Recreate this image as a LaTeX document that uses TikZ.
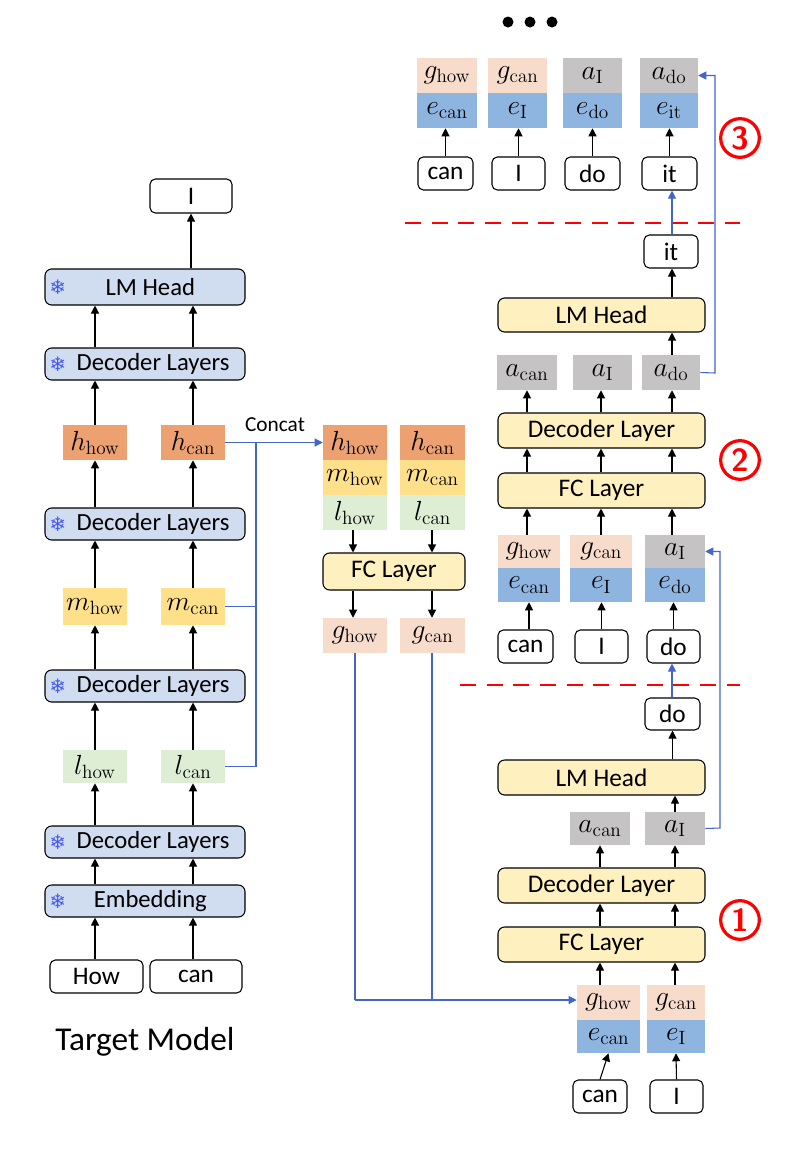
\documentclass[tikz,border=0pt]{standalone}
\usepackage[no-math]{fontspec}
\setmainfont{Carlito}
\newfontfamily\djv{DejaVu Sans}
\usetikzlibrary{arrows.meta}
\definecolor{lay}{HTML}{D0DCEF}
\definecolor{hc}{HTML}{EDA070}
\definecolor{mc}{HTML}{FFE08A}
\definecolor{lc}{HTML}{DDEED5}
\definecolor{gc}{HTML}{F8DCCB}
\definecolor{ec}{HTML}{8EB4E0}
\definecolor{ac}{HTML}{C5C3C4}
\definecolor{yb}{HTML}{FFF0C0}
\definecolor{bl}{HTML}{4466C4}
\newcommand\bx[7]{\node[#6, minimum width={(#4-#2)*0.75pt}, minimum height={(#5-#3)*0.75pt}] (#1) at ({(#2+#4)/2},{(#3+#5)/2}) {#7};}
\begin{document}
\begin{tikzpicture}[x=0.75pt,y=-0.75pt,
 every node/.style={inner sep=0pt,font=\fontsize{19}{22}\selectfont},
 tok/.style={draw,thick,rounded corners=4pt},
 layer/.style={draw,thick,rounded corners=5pt,fill=lay,font=\fontsize{18.5}{22}\selectfont},
 ylay/.style={draw,thick,rounded corners=5pt,fill=yb,font=\fontsize{19}{22}\selectfont},
 cell/.style={fill=#1,font=\fontsize{21}{24}\selectfont},
 arr/.style={-{Triangle[length=6pt,width=6pt]},thick},
 barr/.style={-{Triangle[length=6pt,width=6pt]},thick,bl},
 bln/.style={thick,bl},
 rdash/.style={red,line width=2pt,dash pattern=on 12pt off 8pt},
 num/.style={circle,draw=red,line width=2.4pt,text=red,minimum size=29pt,font=\fontsize{24}{26}\selectfont\sffamily\bfseries}]
\useasboundingbox (0,0) rectangle (788,1150);
% ---------- left: target model
\bx{I0}{150}{179}{232}{213}{tok}{I}
\bx{lmh}{45}{269}{245}{305}{layer}{\hspace*{8pt}LM Head}
\bx{d4}{45}{348}{245}{380}{layer}{\hspace*{12pt}Decoder Layers}
\bx{hhow}{63}{425}{127}{460}{cell=hc}{$h_{\mathrm{how}}$}
\bx{hcan}{161}{425}{225}{460}{cell=hc}{$h_{\mathrm{can}}$}
\bx{d3}{45}{508}{245}{540}{layer}{\hspace*{12pt}Decoder Layers}
\bx{mhow}{63}{588}{127}{625}{cell=mc}{$m_{\mathrm{how}}$}
\bx{mcan}{161}{588}{225}{625}{cell=mc}{$m_{\mathrm{can}}$}
\bx{d2}{45}{670}{245}{702}{layer}{\hspace*{12pt}Decoder Layers}
\bx{lhow}{63}{750}{127}{783}{cell=lc}{$l_{\mathrm{how}}$}
\bx{lcan}{161}{750}{225}{783}{cell=lc}{$l_{\mathrm{can}}$}
\bx{d1}{45}{826}{245}{858}{layer}{\hspace*{12pt}Decoder Layers}
\bx{emb}{45}{885}{245}{917}{layer}{\hspace*{8pt}Embedding}
\bx{how}{50}{960}{143}{993}{tok}{How}
\bx{can0}{150}{960}{242}{993}{tok}{can}
\node[font=\fontsize{25}{28}\selectfont] (tm) at (145,1042) {Target Model};
\foreach \n in {lmh,d4,d3,d2,d1,emb} \node at ([xshift=10pt]\n.west) {\djv\color{ec!50!blue}\fontsize{15}{15}\selectfont ❄};
\foreach \a/\b in {how/emb,emb/d1,d1/lhow,lhow/d2,d2/mhow,mhow/d3,d3/hhow,hhow/d4,d4/lmh}{
 \draw[arr] (\a.north -| hhow) -- (\b.south -| hhow);
 \draw[arr] (\a.north -| hcan) -- (\b.south -| hcan);}
\draw[arr] (lmh.north -| I0) -- (I0.south);
% ---------- middle
\bx{Hh}{323}{425}{387}{460}{cell=hc}{$h_{\mathrm{how}}$}
\bx{Hc}{400}{425}{465}{460}{cell=hc}{$h_{\mathrm{can}}$}
\bx{Mh}{323}{460}{387}{495}{cell=mc}{$m_{\mathrm{how}}$}
\bx{Mc}{400}{460}{465}{495}{cell=mc}{$m_{\mathrm{can}}$}
\bx{Lh}{323}{495}{387}{530}{cell=lc}{$l_{\mathrm{how}}$}
\bx{Lc}{400}{495}{465}{530}{cell=lc}{$l_{\mathrm{can}}$}
\bx{fc0}{323}{553}{465}{590}{ylay}{FC Layer}
\bx{Gh}{323}{618}{387}{653}{cell=gc}{$g_{\mathrm{how}}$}
\bx{Gc}{400}{618}{465}{653}{cell=gc}{$g_{\mathrm{can}}$}
\draw[arr] (Lh.south -| 353,0) -- (fc0.north -| 353,0);
\draw[arr] (Lc.south -| 432,0) -- (fc0.north -| 432,0);
\draw[arr] (fc0.south -| 353,0) -- (Gh.north -| 353,0);
\draw[arr] (fc0.south -| 432,0) -- (Gc.north -| 432,0);
% concat
\node[font=\fontsize{16}{18}\selectfont] (cc) at (275,425) {Concat};
\coordinate (j) at (256,442);
\draw[barr] (hcan.east) -- (Hh.west);
\draw[bln] (j) |- (lcan.east);
\draw[bln] (mcan.east) -- (mcan.east -| j);
% ---------- step 1
\bx{g1h}{577}{985}{640}{1020}{cell=gc}{$g_{\mathrm{how}}$}
\bx{e1h}{577}{1020}{640}{1053}{cell=ec}{$e_{\mathrm{can}}$}
\bx{g1c}{647}{985}{705}{1020}{cell=gc}{$g_{\mathrm{can}}$}
\bx{e1c}{647}{1020}{705}{1053}{cell=ec}{$e_{\mathrm{I}}$}
\bx{t1a}{573}{1080}{627}{1113}{tok}{can}
\bx{t1b}{650}{1080}{703}{1113}{tok}{I}
\bx{fc1}{498}{927}{705}{962}{ylay}{FC Layer}
\bx{dl1}{498}{868}{705}{903}{ylay}{Decoder Layer}
\bx{a1c}{570}{812}{630}{845}{cell=ac}{$a_{\mathrm{can}}$}
\bx{a1i}{645}{812}{705}{845}{cell=ac}{$a_{\mathrm{I}}$}
\bx{lm1}{498}{760}{705}{795}{ylay}{LM Head}
\bx{do1}{645}{698}{700}{730}{tok}{do}
\draw[arr] (t1a.north) -- (e1h.south);
\draw[arr] (t1b.north) -- (e1c.south);
\foreach \x in {600,675}{
 \draw[arr] (g1h.north -| \x,0) -- (fc1.south -| \x,0);
 \draw[arr] (fc1.north -| \x,0) -- (dl1.south -| \x,0);
 \draw[arr] (dl1.north -| \x,0) -- (a1c.south -| \x,0);}
\draw[arr] (a1i.north) -- (lm1.south -| a1i);
\draw[arr] (lm1.north -| do1) -- (do1.south);
\node[num] (n1) at (740,920) {1};
\draw[bln] (Gh.south) -- (Gh.south |- 0,1000) coordinate (k);
\draw[bln] (Gc.south -| 432,0) -- (432,1000);
\draw[barr] (k) -- (g1h.west |- 0,1000);
\draw[rdash] (460,685) -- (740,685);
% ---------- step 2
\bx{g2a}{498}{535}{560}{568}{cell=gc}{$g_{\mathrm{how}}$}
\bx{e2a}{498}{568}{560}{602}{cell=ec}{$e_{\mathrm{can}}$}
\bx{g2b}{570}{535}{632}{568}{cell=gc}{$g_{\mathrm{can}}$}
\bx{e2b}{570}{568}{632}{602}{cell=ec}{$e_{\mathrm{I}}$}
\bx{g2c}{645}{535}{705}{568}{cell=ac}{$a_{\mathrm{I}}$}
\bx{e2c}{645}{568}{705}{602}{cell=ec}{$e_{\mathrm{do}}$}
\bx{t2a}{498}{630}{553}{663}{tok}{can}
\bx{t2b}{575}{630}{628}{663}{tok}{I}
\bx{t2c}{647}{630}{700}{663}{tok}{do}
\bx{fc2}{498}{473}{705}{508}{ylay}{FC Layer}
\bx{dl2}{498}{413}{705}{448}{ylay}{Decoder Layer}
\bx{a2a}{497}{355}{557}{390}{cell=ac}{$a_{\mathrm{can}}$}
\bx{a2b}{573}{355}{632}{390}{cell=ac}{$a_{\mathrm{I}}$}
\bx{a2c}{642}{355}{700}{390}{cell=ac}{$a_{\mathrm{do}}$}
\bx{lm2}{498}{298}{705}{332}{ylay}{LM Head}
\bx{it2}{644}{235}{698}{268}{tok}{it}
\draw[arr] (t2a.north -| e2a) -- (e2a.south);
\draw[arr] (t2b.north) -- (e2b.south -| t2b);
\draw[arr] (t2c.north) -- (e2c.south -| t2c);
\foreach \x in {527,601,672}{
 \draw[arr] (g2a.north -| \x,0) -- (fc2.south -| \x,0);
 \draw[arr] (fc2.north -| \x,0) -- (dl2.south -| \x,0);
 \draw[arr] (dl2.north -| \x,0) -- (a2a.south -| \x,0);}
\draw[arr] (a2c.north -| 672,0) -- (lm2.south -| 672,0);
\draw[arr] (lm2.north -| 672,0) -- (it2.south -| 672,0);
\node[num] (n2) at (740,460) {2};
\draw[barr] (a1i.east) -- (720,828) |- (g2c.east);
\draw[barr] (do1.north -| 672,0) -- (t2c.south -| 672,0);
\draw[rdash] (405,223) -- (740,223);
% ---------- step 3
\bx{g3a}{417}{58}{477}{93}{cell=gc}{$g_{\mathrm{how}}$}
\bx{e3a}{417}{93}{477}{128}{cell=ec}{$e_{\mathrm{can}}$}
\bx{g3b}{488}{58}{547}{93}{cell=gc}{$g_{\mathrm{can}}$}
\bx{e3b}{488}{93}{547}{128}{cell=ec}{$e_{\mathrm{I}}$}
\bx{g3c}{563}{58}{622}{93}{cell=ac}{$a_{\mathrm{I}}$}
\bx{e3c}{563}{93}{622}{128}{cell=ec}{$e_{\mathrm{do}}$}
\bx{g3d}{640}{58}{698}{93}{cell=ac}{$a_{\mathrm{do}}$}
\bx{e3d}{640}{93}{698}{128}{cell=ec}{$e_{\mathrm{it}}$}
\bx{t3a}{418}{157}{473}{190}{tok}{can}
\bx{t3b}{492}{157}{545}{190}{tok}{I}
\bx{t3c}{565}{157}{620}{190}{tok}{do}
\bx{t3d}{642}{157}{697}{190}{tok}{it}
\foreach \t/\e in {t3a/e3a,t3b/e3b,t3c/e3c,t3d/e3d}
 \draw[arr] (\t.north) -- (\e.south -| \t);
\node[num] (n3) at (740,138) {3};
\draw[barr] (a2c.east) -- (715,373) |- (g3d.east);
\draw[barr] (it2.north -| 672,0) -- (t3d.south -| 672,0);
\foreach \x in {508,530,552} \fill (\x,22) circle (5.5);
\end{tikzpicture}
\end{document}
